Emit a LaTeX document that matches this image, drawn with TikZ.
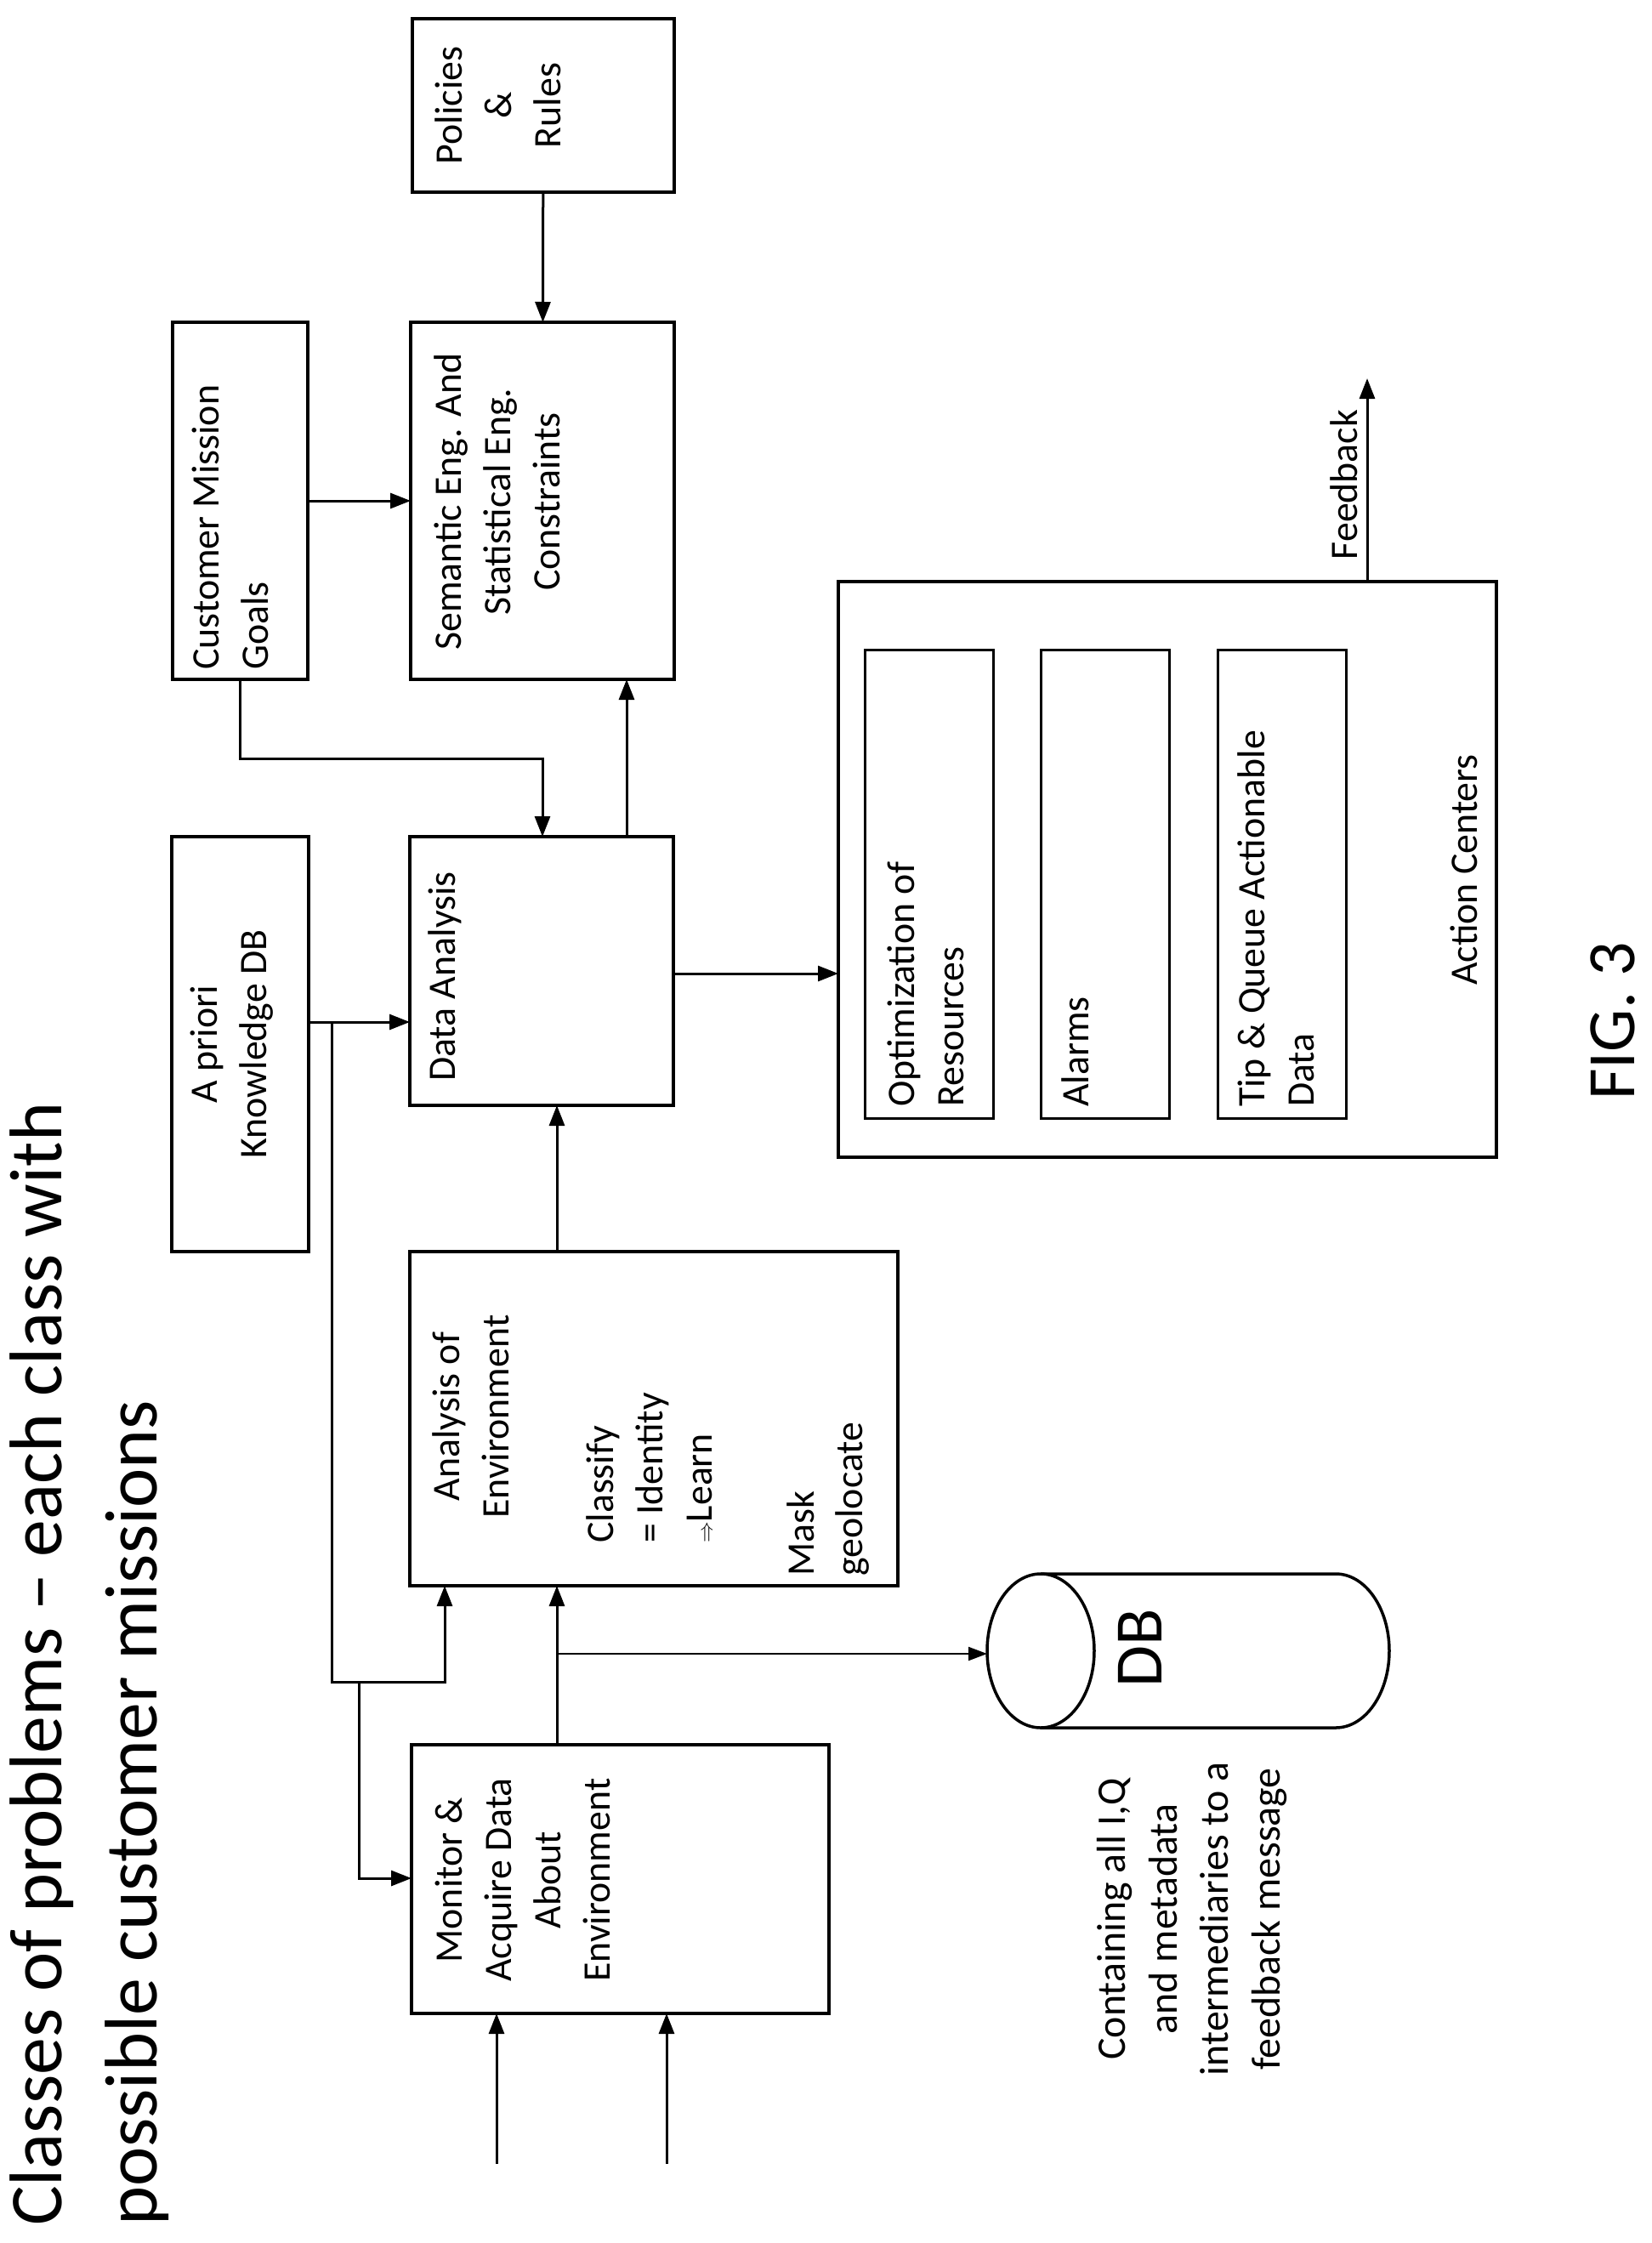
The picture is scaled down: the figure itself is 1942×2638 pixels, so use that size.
\documentclass[tikz,border=0pt]{standalone}
\usepackage{fontspec}
\setmainfont{Carlito}
\usetikzlibrary{arrows.meta,calc}
\begin{document}
\begin{tikzpicture}[x=1bp,y=-1bp,
  box/.style={draw,line width=3.5bp,inner sep=0,outer sep=0},
  ibox/.style={draw,line width=3bp,inner sep=0,outer sep=0},
  txt/.style={rotate=90,inner sep=0,font=\fontsize{46}{58}\selectfont},
  arr/.style={line width=3bp,-{Triangle[length=24bp,width=18bp]}},
  ln/.style={line width=3bp}]
\useasboundingbox (0,0) rectangle (1942,2638);
\fill[white] (0,0) rectangle (1942,2638);
% boxes
\node[box,minimum width=308bp,minimum height=204bp] (pol) at (639,124) {};
\node[box,minimum width=159bp,minimum height=420bp] (goals) at (282.5,589) {};
\node[box,minimum width=310bp,minimum height=420bp] (sem) at (638,589) {};
\node[box,minimum width=161bp,minimum height=488bp] (apr) at (282.5,1228) {};
\node[box,minimum width=310bp,minimum height=316bp] (da) at (637,1142) {};
\node[box,minimum width=574bp,minimum height=393bp] (env) at (769,1668.5) {};
\node[box,minimum width=491bp,minimum height=316bp] (mon) at (729.5,2210) {};
\node[box,minimum width=774bp,minimum height=677bp] (act) at (1373,1022.5) {};
\node[ibox,minimum width=151bp,minimum height=551bp] (opt) at (1092.5,1039.5) {};
\node[ibox,minimum width=151bp,minimum height=551bp] (alm) at (1299.5,1039.5) {};
\node[ibox,minimum width=151bp,minimum height=551bp] (tip) at (1507.5,1039.5) {};
% DB cylinder
\draw[line width=3.5bp] (1224,1851) -- (1571,1851) arc[start angle=-90,end angle=90,x radius=63,y radius=90.5] -- (1224,2032);
\draw[line width=3.5bp] (1224,1941.5) ellipse[x radius=63,y radius=90.5];
\coordinate (dbin) at (1161,1945);
% texts
\node[txt,align=center] (tpol) at (586,124) {Policies\\\&\\Rules};
\node[txt,align=left,anchor=west] (tgoals) at (271,788) {Customer Mission\\Goals};
\node[txt,align=center] (tsem) at (585,590) {Semantic Eng. And\\Statistical Eng.\\Constraints};
\node[txt,align=center] (tapr) at (273,1228) {A priori\\Knowledge DB};
\node[txt,anchor=west] (tda) at (523,1272) {Data Analysis};
\node[txt,align=center] (tenv) at (554,1666) {Analysis of\\Environment};
\node[txt,align=left,anchor=west] (tcls) at (764,1815) {Classify\\= Identity\\$\Rightarrow$Learn};
\node[txt,align=left,anchor=west] (tmask) at (974,1854) {Mask\\geolocate};
\node[txt,align=center] (tmon) at (615,2211) {Monitor \&\\Acquire Data\\About\\Environment};
\node[txt,align=left,anchor=west] (topt) at (1089,1302) {Optimization of\\Resources};
\node[txt,anchor=west] (talm) at (1265,1302) {Alarms};
\node[txt,align=left,anchor=west] (ttip) at (1501,1302) {Tip \& Queue Actionable\\Data};
\node[txt] (tact) at (1722,1023) {Action Centers};
\node[txt] (tfb) at (1581,570) {Feedback};
\node[txt,font=\fontsize{80}{96}\selectfont] (tfig) at (1897,1201) {FIG. 3};
\node[txt,font=\fontsize{80}{96}\selectfont] (tdb) at (1341,1938) {DB};
\node[txt,align=center,font=\fontsize{48}{61}\selectfont] (tcap) at (1402,2257) {Containing all I,Q\\and metadata\\intermediaries to a\\feedback message};
\node[txt,align=left,anchor=west,font=\fontsize{88}{112}\selectfont] (ttitle) at (105,2618) {Classes of problems – each class with\\possible customer missions};
% connectors
\coordinate (k1) at (638,892);
\coordinate (c737) at (737,0);
\coordinate (c1202) at (0,1202);
\coordinate (c655) at (655,0);
\coordinate (c1145) at (0,1145);
\coordinate (b1) at (390,1202);
\coordinate (b2) at (390,1978);
\coordinate (b3) at (523,1978);
\coordinate (b4) at (422,1978);
\coordinate (b5) at (422,2209);
\coordinate (dbt) at (655,1945);
\coordinate (fb) at (1608,445);
\coordinate (in1) at (584,2545);
\coordinate (in2) at (784,2545);
\draw[arr] (pol) -- (sem);
\draw[arr] (goals.east) -- (sem.west);
\draw[arr] (goals.south) |- (k1) -- (k1 |- da.north);
\draw[arr] (c737 |- da.north) -- (c737 |- sem.south);
\draw[arr] (c1202 -| apr.east) -- (c1202 -| da.west);
\draw[arr] (b1) -- (b2) -- (b3) -- (b3 |- env.south);
\draw[arr] (b4) -- (b5) -- (b5 -| mon.west);
\draw[arr] (c655 |- env.north) -- (c655 |- da.south);
\draw[arr] (c655 |- mon.north) -- (c655 |- env.south);
\draw[line width=2bp,-{Triangle[length=22bp,width=16bp]}] (dbt) -- (dbin);
\draw[arr] (c1145 -| da.east) -- (c1145 -| act.west);
\draw[arr] (fb |- act.north) -- (fb);
\draw[arr] (in1) -- (in1 |- mon.south);
\draw[arr] (in2) -- (in2 |- mon.south);
\end{tikzpicture}
\end{document}
